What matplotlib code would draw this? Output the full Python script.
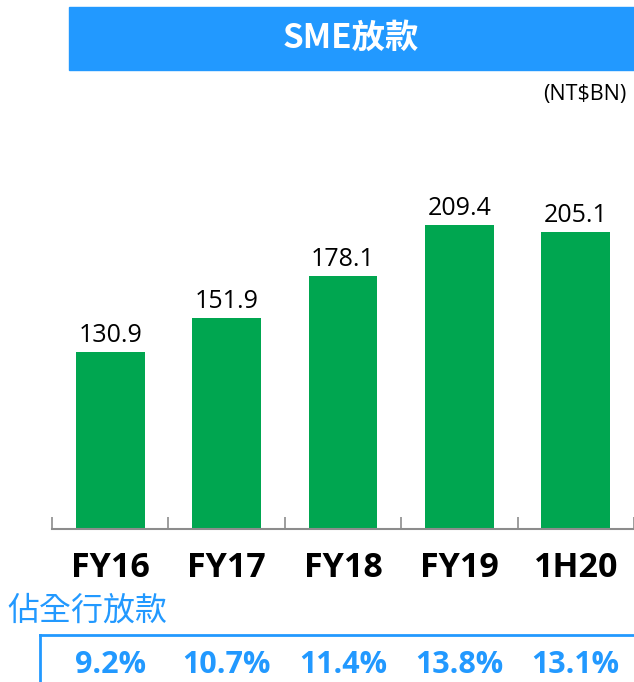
import matplotlib
matplotlib.use('Agg')
import matplotlib.pyplot as plt
import matplotlib.transforms as mtransforms
from matplotlib.lines import Line2D
from matplotlib.patches import Rectangle
import numpy as np

categories = ['FY16', 'FY17', 'FY18', 'FY19', '1H20']
sme_loans = [130.9, 151.9, 178.1, 209.4, 205.1]
share_labels = ['9.2%', '10.7%', '11.4%', '13.8%', '13.1%']

title = 'SME放款'
unit = '(NT$BN)'
share_title = '佔全行放款'

GREEN = '#00A650'
BLUE = '#2299FF'
W, H = 634, 682


def fx(px):
    return px / W


def fy(py):
    return 1 - py / H


fig = plt.figure(figsize=(W / 100, H / 100), dpi=100)

# title banner
fig.patches.append(Rectangle((fx(69), fy(70)), fx(634) - fx(69), fy(7) - fy(70),
                             transform=fig.transFigure, color=BLUE, zorder=0))
fig.text(fx(351), fy(38), title, color='white', fontsize=24, fontweight='bold',
         family=['Noto Sans CJK TC', 'DejaVu Sans'], ha='center', va='center')
fig.text(fx(626), fy(100), unit, fontsize=15.5, family='Open Sans', ha='right', va='baseline')

########## bar chart ##########
ax = fig.add_axes([fx(52), fy(529), fx(634) - fx(52), fy(150) - fy(529)])
x = np.arange(len(categories))
bars = ax.bar(x, sme_loans, width=0.59, color=GREEN, zorder=2)
ax.set_xlim(-0.5, len(categories) - 0.5)
ax.set_ylim(21, 256)

for b, v in zip(bars, sme_loans):
    ax.annotate(f'{v:.1f}', (b.get_x() + b.get_width() / 2, v), xytext=(0, 7),
                textcoords='offset points', ha='center', va='baseline',
                fontsize=18, family='Open Sans')

for s in ['top', 'right', 'left']:
    ax.spines[s].set_visible(False)
ax.spines['bottom'].set_color('#8c8c8c')
ax.spines['bottom'].set_linewidth(1.5)
ax.set_yticks([])
ax.set_xticks(np.arange(len(categories) + 1) - 0.5)
ax.set_xticklabels([])
ax.tick_params(axis='x', direction='in', length=9, width=1.2, color='#8c8c8c')

# x in data units, y in figure pixels
row_trans = mtransforms.blended_transform_factory(ax.transData, fig.transFigure)

# category labels
for i, c in enumerate(categories):
    ax.text(i, fy(577), c, transform=row_trans, ha='center', va='baseline',
            fontsize=24.5, fontweight='bold', family='Open Sans', clip_on=False)

# share of total loans row
fig.text(fx(7), fy(611), share_title, color=BLUE, fontsize=23,
         family=['Noto Sans CJK TC', 'DejaVu Sans'], ha='left', va='center')
fig.add_artist(Line2D([fx(40), fx(40)], [fy(635), fy(682)], color=BLUE, lw=2))
fig.add_artist(Line2D([fx(40), fx(634)], [fy(635), fy(635)], color=BLUE, lw=2))
for i, s in enumerate(share_labels):
    ax.text(i, fy(673), s, transform=row_trans, ha='center', va='baseline',
            fontsize=22, fontweight='bold', family='Open Sans', color=BLUE, clip_on=False)

fig.savefig('out.png', dpi=100)
